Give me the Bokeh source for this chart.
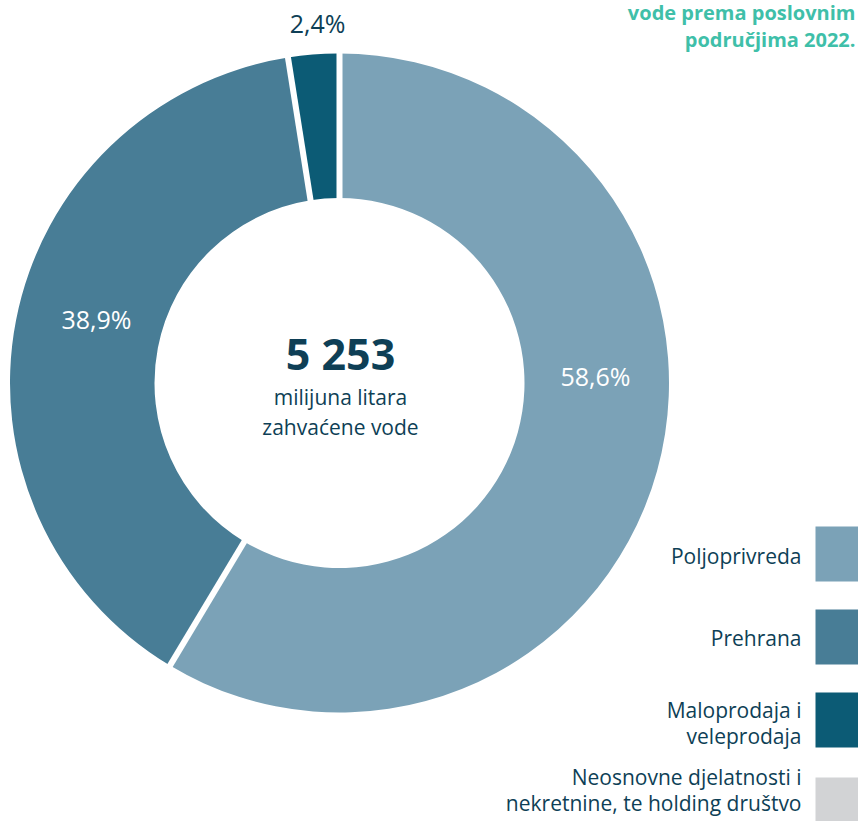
import numpy as np
from bokeh.plotting import figure
from bokeh.models import Range1d, ColumnDataSource
from bokeh.core.properties import value
from bokeh.embed import file_html
from bokeh.resources import INLINE

categories = ["Poljoprivreda", "Prehrana", "Maloprodaja i\nveleprodaja",
              "Neosnovne djelatnosti i\nnekretnine, te holding društvo"]
shares = [58.6, 38.9, 2.4, 0.0]
labels = ["58,6%", "38,9%", "2,4%", ""]
colors = ["#7BA2B7", "#487D96", "#0C5B75", "#D2D3D5"]
total_text = "5 253"
unit_text = ["milijuna litara", "zahvaćene vode"]
title_lines = ["vode prema poslovnim", "područjima 2022."]

W, H = 858, 821
FONT = "Open Sans"
DARK = "#0E3F56"

p = figure(width=W, height=H, output_backend="svg", toolbar_location=None,
           x_range=Range1d(0, W), y_range=Range1d(-H, 0),
           min_border=0)
p.axis.visible = False
p.grid.visible = False
p.outline_line_color = None
p.background_fill_color = "white"

cx, cy = 339, -382.5
r_in, r_out = 185, 329.5

fr = np.array(shares) / 100.0
cum = np.cumsum(fr)
prev = np.concatenate([[0], cum[:-1]])
start = np.pi / 2 - 2 * np.pi * prev
end = np.pi / 2 - 2 * np.pi * cum
mask = fr > 0
src = ColumnDataSource(dict(start=start[mask], end=end[mask],
                            color=[c for c, m in zip(colors, mask) if m]))
p.annular_wedge(x=cx, y=cy, inner_radius=r_in, outer_radius=r_out,
                start_angle="start", end_angle="end", direction="clock",
                fill_color="color", line_color=None, source=src)

# white separators at slice boundaries
bang = np.pi / 2 - 2 * np.pi * np.concatenate([[0], cum[mask][:-1]])
x0 = cx + (r_in - 3) * np.cos(bang)
y0 = cy + (r_in - 3) * np.sin(bang)
x1 = cx + (r_out + 3) * np.cos(bang)
y1 = cy + (r_out + 3) * np.sin(bang)
p.segment(x0=x0, y0=y0, x1=x1, y1=y1, line_color="white", line_width=6)

# slice labels
lab_pos = [(595, -375, "white"), (96, -318, "white"), (317, -22, DARK)]
for (lx, ly, lc), t in zip(lab_pos, labels):
    p.text(x=[lx], y=[ly], text=[t], text_font=value(FONT), text_font_size="25px",
           text_color=lc, text_align="center", text_baseline="middle")

# center text
p.text(x=[340], y=[-353], text=[total_text], text_font=value(FONT), text_font_size="43px",
       text_font_style="bold", text_color=DARK, text_align="center", text_baseline="middle")
for i, t in enumerate(unit_text):
    p.text(x=[340], y=[-396 - 30 * i], text=[t], text_font=value(FONT), text_font_size="21px",
           text_color=DARK, text_align="center", text_baseline="middle")

# title fragment (top right)
for i, t in enumerate(title_lines):
    p.text(x=[855], y=[-12 - 27 * i], text=[t], text_font=value(FONT), text_font_size="20px",
           text_font_style="bold", text_color="#3FBFA9", text_align="right",
           text_baseline="middle")

# legend
leg_top = [526, 609, 692, 777]
leg_mid = [555, 637, 722, 789]
for i, (cat, col) in enumerate(zip(categories, colors)):
    top = leg_top[i]
    p.quad(left=815, right=W + 5, top=-top, bottom=-(top + 55), fill_color=col, line_color=None)
    lines = cat.split("\n")
    mid = leg_mid[i]
    for j, ln in enumerate(lines):
        yy = mid - 13 * (len(lines) - 1) + 26 * j
        p.text(x=[801], y=[-yy], text=[ln], text_font=value(FONT), text_font_size="21px",
               text_color=DARK, text_align="right", text_baseline="middle")

open("out.html", "w").write(file_html(p, INLINE))
